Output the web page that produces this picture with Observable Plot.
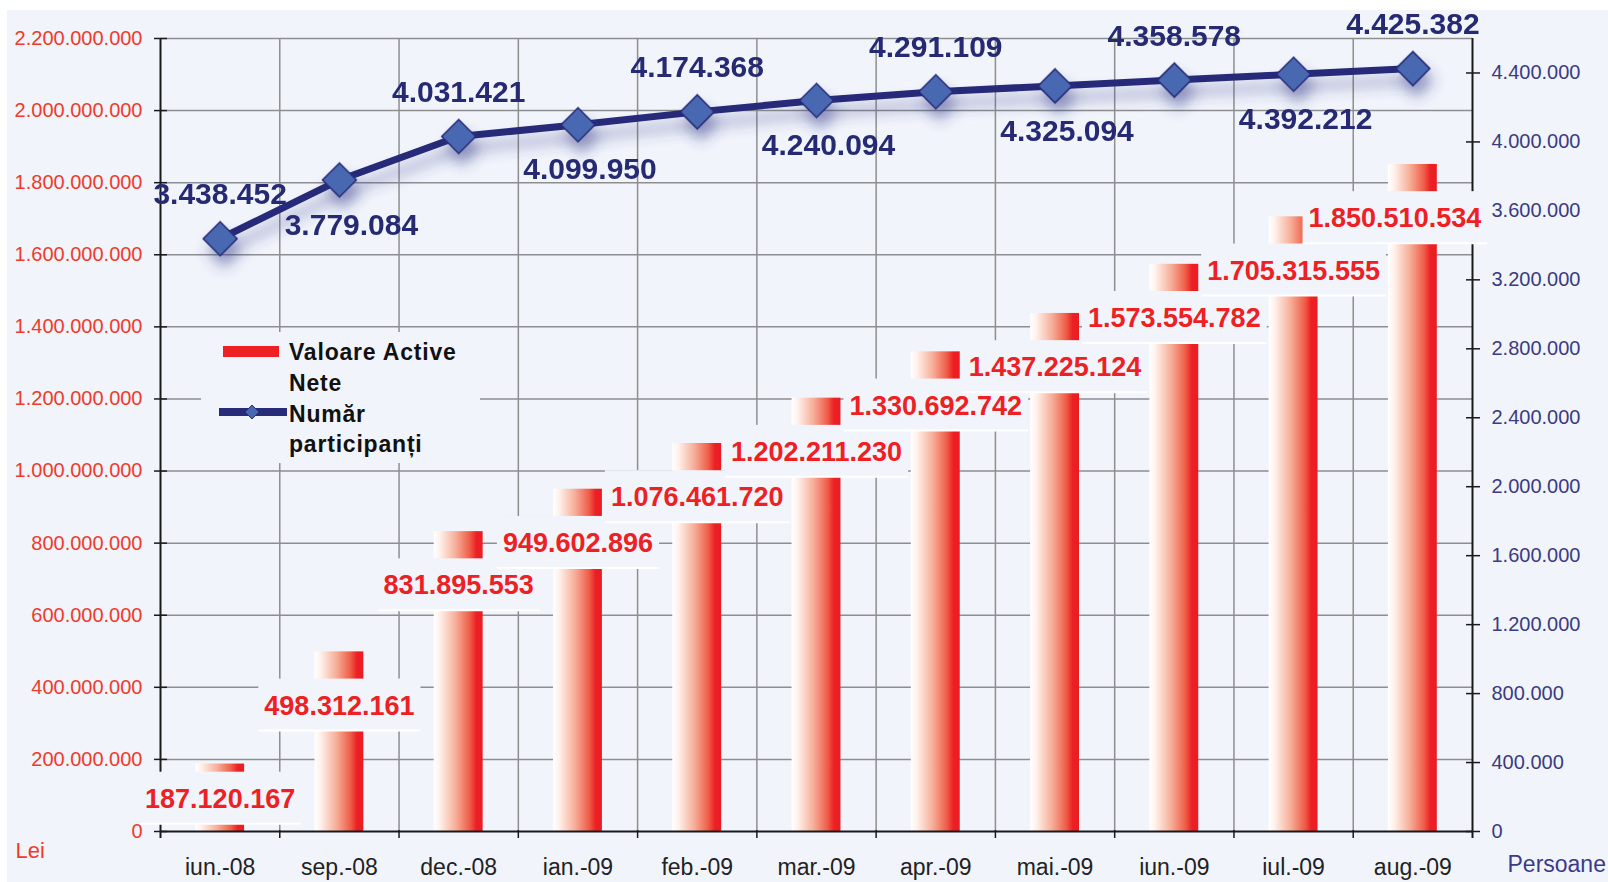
<!DOCTYPE html>
<html><head><meta charset="utf-8">
<script src="https://cdn.jsdelivr.net/npm/d3@7"></script>
<script src="https://cdn.jsdelivr.net/npm/@observablehq/plot@0.6"></script>
<style>
html,body{margin:0;padding:0;background:#fff;}
#chart{width:1608px;height:882px;overflow:hidden;position:relative;}
#chart svg{display:block;}
</style></head><body><div id="chart"></div>
<script>
const categories = ["iun.-08","sep.-08","dec.-08","ian.-09","feb.-09","mar.-09","apr.-09","mai.-09","iun.-09","iul.-09","aug.-09"];
const netAssets = [187120167, 498312161, 831895553, 949602896, 1076461720, 1202211230, 1330692742, 1437225124, 1573554782, 1705315555, 1850510534];
const participants = [3438452, 3779084, 4031421, 4099950, 4174368, 4240094, 4291109, 4325094, 4358578, 4392212, 4425382];
const leftTicks = [0, 200000000, 400000000, 600000000, 800000000, 1000000000, 1200000000, 1400000000, 1600000000, 1800000000, 2000000000, 2200000000];
const rightTicks = [0, 400000, 800000, 1200000, 1600000, 2000000, 2400000, 2800000, 3200000, 3600000, 4000000, 4400000];
const leftMax = 2200000000;
const rightMax = 4600000;
const legendLabels = [["Valoare Active", "Nete"], ["Număr", "participanți"]];
const leftUnit = "Lei";
const rightUnit = "Persoane";

const W = 1608, H = 882, ML = 160, MR = 136, MT = 38, MB = 51;
const n = categories.length;
const frameW = W - ML - MR, frameH = H - MT - MB, step = frameW / n;
const k = leftMax / rightMax;
const BG = "#f1f4fb", RED = "#ee2024", NAVY = "#272b78", AXIS = "#1a1a1a", GRID = "#8e8e8e";
const fmt = d3.formatLocale({decimal: ",", thousands: ".", grouping: [3], currency: ["", ""]}).format(",.0f");

const bars = categories.map((c, i) => ({cat: c, value: netAssets[i], i}));
const pts = categories.map((c, i) => ({cat: c, value: participants[i], y: participants[i] * k, i}));
const rightScaled = rightTicks.map(t => t * k);

const barLabelY = d => Math.max(d.value - 150000000, 90000000);
const barText = {x: "cat", y: barLabelY, text: d => fmt(d.value), fill: RED, fontWeight: "bold", fontSize: 27};
const ptText = {x: "cat", y: "y", text: d => fmt(d.value), fill: "#262a73", fontWeight: "bold", fontSize: 30};

const svg = Plot.plot({
  width: W, height: H,
  marginLeft: ML, marginRight: MR, marginTop: MT, marginBottom: MB,
  style: {fontFamily: "'Liberation Sans', Arial, sans-serif", background: "transparent", overflow: "visible"},
  x: {type: "band", domain: categories, paddingInner: 0.59, paddingOuter: 0.295, round: false, label: null},
  y: {domain: [0, leftMax], label: null},
  marks: [
    Plot.ruleY(leftTicks.slice(1), {stroke: GRID, strokeWidth: 1.5}),
    Plot.ruleX(categories.slice(1), {dx: -step / 2, stroke: GRID, strokeWidth: 1.5}),
    Plot.ruleX([categories[0]], {dx: -step / 2, stroke: AXIS, strokeWidth: 2, insetBottom: -7}),
    Plot.ruleX([categories[n - 1]], {dx: step / 2, stroke: AXIS, strokeWidth: 2, insetBottom: -7}),
    Plot.ruleY(leftTicks, {insetLeft: -6, insetRight: frameW - 7, stroke: AXIS, strokeWidth: 1.5}),
    Plot.ruleY(rightScaled, {insetLeft: frameW - 6, insetRight: -8, stroke: AXIS, strokeWidth: 1.5}),
    Plot.barY(bars, {x: "cat", y: "value", fill: RED}),
    Plot.ruleY([0], {stroke: AXIS, strokeWidth: 2}),
    Plot.ruleX(categories.slice(1), {dx: -step / 2, insetTop: frameH - 1, insetBottom: -7, stroke: AXIS, strokeWidth: 1.5}),
    Plot.text(bars.filter(d => d.i < n - 1), barText),
    Plot.text(bars.filter(d => d.i === n - 1), {...barText, dx: -18}),
    Plot.axisY(leftTicks, {anchor: "left", tickSize: 0, tickPadding: 18, tickFormat: fmt, fontSize: 20, color: "#ef3b2d", label: null}),
    Plot.axisY(rightScaled, {anchor: "right", tickSize: 0, tickPadding: 19, tickFormat: d => fmt(Math.round(d / k)), fontSize: 20, color: "#3b3b82", label: null}),
    Plot.axisX({tickSize: 0, tickPadding: 27, fontSize: 23, color: "#222", label: null}),
    Plot.line(pts, {x: "cat", y: "y", stroke: NAVY, strokeWidth: 7}),
    Plot.dot(pts, {x: "cat", y: "y", symbol: "diamond2", r: 15.3, fill: "#4a68b2", stroke: NAVY, strokeWidth: 1.5}),
    Plot.text(pts.filter(d => d.i % 2 === 0), {...ptText, dy: -44}),
    Plot.text(pts.filter(d => d.i % 2 === 1), {...ptText, dy: 45, dx: 12}),
    Plot.text([leftUnit], {text: d => d, frameAnchor: "bottom-left", dx: -145, dy: 26, textAnchor: "start", lineAnchor: "bottom", fill: "#ef3b2d", fontSize: 22}),
    Plot.text([rightUnit], {text: d => d, frameAnchor: "bottom-right", dx: 35, dy: 40, textAnchor: "start", lineAnchor: "bottom", fill: "#3b3b8a", fontSize: 23})
  ]
});

document.getElementById("chart").appendChild(svg);
const s = d3.select(svg);

const defs = s.insert("defs", ":first-child");
const grad = defs.append("linearGradient").attr("id", "barGrad").attr("x1", 0).attr("x2", 1).attr("y1", 0).attr("y2", 0);
[[0, "#ffffff"], [0.12, "#fff2ec"], [0.45, "#f6ae98"], [0.74, "#ef5c47"], [0.87, "#ec2024"], [1, "#eb1c24"]]
  .forEach(([o, c]) => grad.append("stop").attr("offset", o).attr("stop-color", c));
const f = defs.append("filter").attr("id", "shadow").attr("filterUnits", "userSpaceOnUse")
  .attr("x", 0).attr("y", 0).attr("width", W).attr("height", H);
f.append("feGaussianBlur").attr("in", "SourceAlpha").attr("stdDeviation", 7).attr("result", "blur");
f.append("feOffset").attr("in", "blur").attr("dx", 4).attr("dy", 12).attr("result", "off");
f.append("feFlood").attr("flood-color", "#39408c").attr("flood-opacity", 0.45);
f.append("feComposite").attr("in2", "off").attr("operator", "in").attr("result", "sh");
const fm = f.append("feMerge");
fm.append("feMergeNode").attr("in", "sh");
fm.append("feMergeNode").attr("in", "SourceGraphic");

s.insert("rect", "defs + *").attr("x", 7).attr("y", 10).attr("width", W - 7).attr("height", H - 10).attr("fill", BG);

s.selectAll('g[aria-label="bar"] rect').attr("fill", "url(#barGrad)");
s.selectAll('g[aria-label="line"], g[aria-label="dot"]').attr("filter", "url(#shadow)");

// label boxes behind the bar value labels
const textGroups = svg.querySelectorAll('g[aria-label="text"]');
const boxG = d3.create("svg:g");
[textGroups[0], textGroups[1]].forEach(g => {
  g.querySelectorAll("text").forEach(t => {
    const b = t.getBBox();
    const cy = b.y + b.height / 2 - 1;
    const tr = t.transform && t.transform.baseVal.consolidate();
    const tx = tr ? tr.matrix.e : 0, ty = tr ? tr.matrix.f : 0;
    const gtr = g.transform && g.transform.baseVal.consolidate();
    const gx = gtr ? gtr.matrix.e : 0, gy = gtr ? gtr.matrix.f : 0;
    const x0 = b.x + tx + gx - 6, w = b.width + 12, y0 = cy + ty + gy - 26;
    boxG.append("rect").attr("x", x0).attr("y", y0).attr("width", w).attr("height", 52).attr("fill", BG);
    boxG.append("line").attr("x1", x0).attr("x2", x0 + w).attr("y1", y0 + 52).attr("y2", y0 + 52).attr("stroke", "#ffffff").attr("stroke-width", 2);
  });
});
svg.insertBefore(boxG.node(), textGroups[0]);

// legend
const lg = s.append("g").attr("font-family", "'Liberation Sans', Arial, sans-serif").attr("text-anchor", "start");
lg.append("rect").attr("x", 201).attr("y", 332).attr("width", 279).attr("height", 131).attr("fill", BG);
lg.append("rect").attr("x", 223).attr("y", 346).attr("width", 56).attr("height", 11).attr("fill", RED);
lg.append("line").attr("x1", 219).attr("x2", 287).attr("y1", 412).attr("y2", 412).attr("stroke", NAVY).attr("stroke-width", 8);
lg.append("path").attr("d", "M252,405L259,412L252,419L245,412Z").attr("fill", "#4a68b2").attr("stroke", NAVY).attr("stroke-width", 1);
const baselines = [[360, 391], [422, 452]];
legendLabels.forEach((lines, i) => lines.forEach((txt, j) => {
  lg.append("text").attr("x", 289).attr("y", baselines[i][j]).attr("font-size", 23).attr("font-weight", "bold")
    .attr("letter-spacing", 0.8).attr("fill", "#111").attr("text-anchor", "start").text(txt);
}));
</script></body></html>
